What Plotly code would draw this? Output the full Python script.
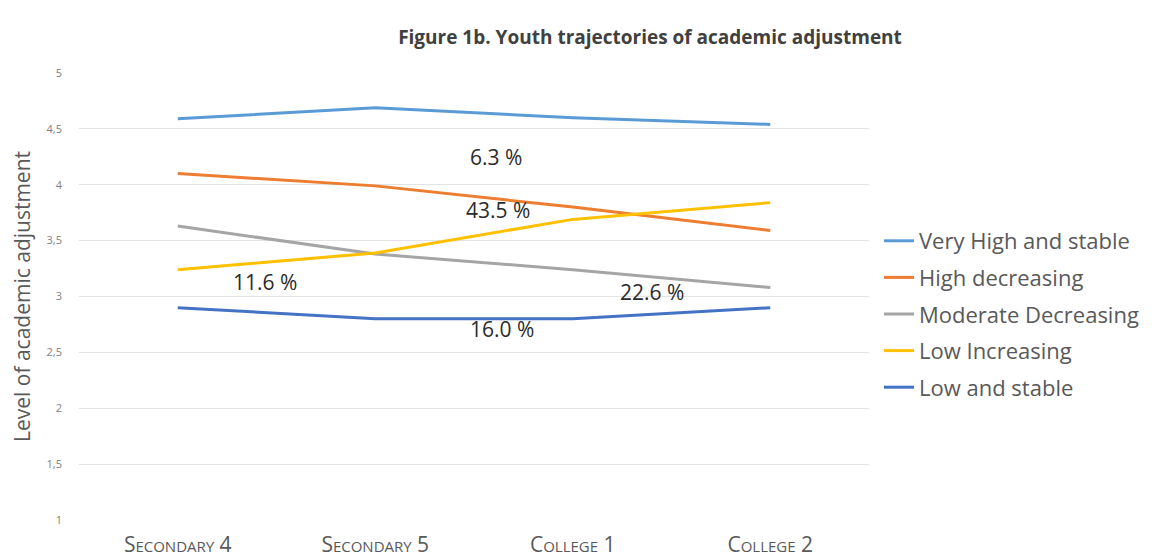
import plotly.graph_objects as go

categories = ["Secondary 4", "Secondary 5", "College 1", "College 2"]
series_names = ["Very High and stable", "High decreasing", "Moderate Decreasing",
                "Low Increasing", "Low and stable"]
very_high = [4.59, 4.69, 4.60, 4.54]
high_decr = [4.10, 3.99, 3.80, 3.59]
moderate_decr = [3.63, 3.38, 3.24, 3.08]
low_incr = [3.24, 3.39, 3.69, 3.84]
low_stable = [2.90, 2.80, 2.80, 2.90]
colors = ["#5B9BD5", "#ED7D31", "#A5A5A5", "#FFC000", "#4472C4"]

pct_labels = ["6.3 %", "43.5 %", "11.6 %", "22.6 %", "16.0 %"]
pct_x = [1.61, 1.62, 0.44, 2.40, 1.64]
pct_y = [4.25, 3.77, 3.13, 3.04, 2.71]

y_ticks = [1, 1.5, 2, 2.5, 3, 3.5, 4, 4.5, 5]

fig = go.Figure()
for i, (name, vals, col) in enumerate(zip(series_names,
                           [very_high, high_decr, moderate_decr, low_incr, low_stable],
                           colors)):
    fig.add_trace(go.Scatter(x=list(range(len(categories))), y=vals, mode="lines",
                             name=name, legendgroup="g%d" % i,
                             line=dict(color=col, width=3)))

for t, x, y in zip(pct_labels, pct_x, pct_y):
    fig.add_annotation(x=x, y=y, text=t, showarrow=False,
                       font=dict(family="Open Sans", size=21, color="#2B2B2B"))

fig.update_layout(
    width=1165, height=558,
    paper_bgcolor="white", plot_bgcolor="white",
    margin=dict(l=71, r=304, t=65, b=46),
    separators=",.",
    title=dict(text="<b>Figure 1b. Youth trajectories of academic adjustment</b>",
               x=642 / 1165, xanchor="center", y=1 - 29 / 558, yanchor="middle",
               font=dict(family="Open Sans", size=19, color="#404040")),
    legend=dict(xref="container", yref="container",
                x=871 / 1165, xanchor="left", y=1 - 306 / 558, yanchor="middle",
                font=dict(family="Open Sans", size=22, color="#595959"),
                bgcolor="rgba(0,0,0,0)", itemwidth=30, tracegroupgap=5),
    showlegend=True,
)
fig.update_xaxes(
    range=[-0.5, 3.5], tickvals=list(range(len(categories))), ticktext=categories,
    showgrid=False, zeroline=False, showline=False, ticks="", automargin=False,
    tickfont=dict(family="Open Sans", size=21, color="#595959", variant="small-caps"),
    ticklabelstandoff=10,
)
fig.update_yaxes(
    range=[1, 5], tickvals=y_ticks, showgrid=True, gridcolor="#E3E3E3", gridwidth=1,
    zeroline=False, showline=False, ticks="", automargin=False,
    tickfont=dict(family="Open Sans", size=11, color="#7F7F7F"),
    ticklabelstandoff=16,
    title=dict(text="Level of academic adjustment", standoff=12,
               font=dict(family="Open Sans", size=21, color="#595959")),
)

fig.write_html("out.html")
